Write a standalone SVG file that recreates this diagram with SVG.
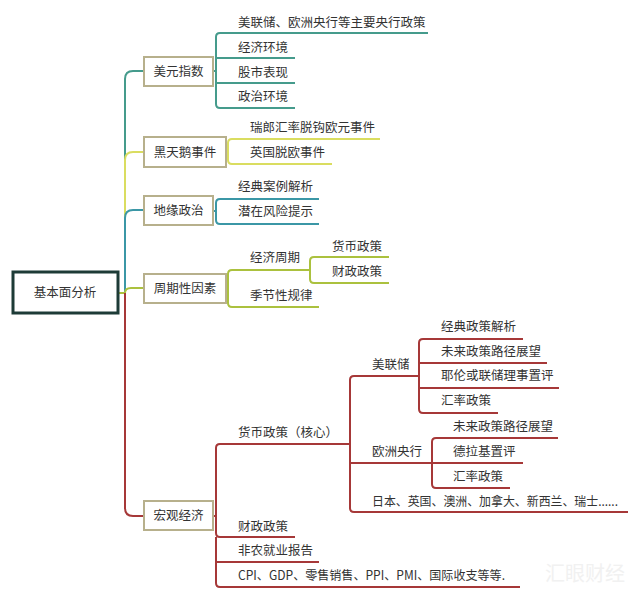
<svg xmlns="http://www.w3.org/2000/svg" width="640" height="599" viewBox="0 0 640 599">
<style>
text{font-family:"Noto Sans CJK SC","Microsoft YaHei",sans-serif;font-size:12.5px;fill:#333}
.c{fill:none;stroke-width:2;stroke-linejoin:round}
.t{stroke:#459b8c}
.y{stroke:#dadd60}
.b{stroke:#3b97a6}
.g{stroke:#abc13e}
.r{stroke:#a63838}
.box{fill:#fff;stroke:#b7b08c;stroke-width:2}
.mid{text-anchor:middle}
</style>
<rect width="640" height="599" fill="#fff"/>
<g id="connectors">
  <!-- trunk -->
  <path class="c t" d="M119,293 H125 V79 Q125,71 133,71 H144"/>
  <path class="c y" d="M125,293 V160 Q125,152 133,152 H144"/>
  <path class="c b" d="M125,293 V218 Q125,210 133,210 H144"/>
  <path class="c g" d="M119,293 H125 Q125,288 131,288 H144"/>
  <path class="c r" d="M125,293 V508 Q125,516 133,516 H144"/>
  <!-- 美元指数 -->
  <path class="c t" d="M213,71 H216 V37 Q216,33 220,33 H428"/>
  <path class="c t" d="M216,71 V58 H295"/>
  <path class="c t" d="M216,71 V83 H295"/>
  <path class="c t" d="M213,71 H216 V104 Q216,108 220,108 H295"/>
  <!-- 黑天鹅 -->
  <path class="c y" d="M226,152 H228 V143 Q228,139 232,139 H380"/>
  <path class="c y" d="M226,152 H228 V160 Q228,164 232,164 H332"/>
  <!-- 地缘政治 -->
  <path class="c b" d="M213,211 H216 V203 Q216,199 220,199 H319"/>
  <path class="c b" d="M213,211 H216 V220 Q216,224 220,224 H319"/>
  <!-- 周期性因素 -->
  <path class="c g" d="M226,289 H228 V274 Q228,270 232,270 H310"/>
  <path class="c g" d="M226,289 H228 V303 Q228,307 232,307 H319"/>
  <path class="c g" d="M310,270 V261 Q310,257 314,257 H389"/>
  <path class="c g" d="M310,270 V279 Q310,283 314,283 H389"/>
  <!-- 宏观经济 -->
  <path class="c r" d="M213,516 H216 V448 Q216,444 220,444 H350"/>
  <path class="c r" d="M213,516 H216 V533 Q216,537 220,537 H295"/>
  <path class="c r" d="M216,537 V562 H319"/>
  <path class="c r" d="M216,562 V583 Q216,587 220,587 H520"/>
  <path class="c r" d="M350,444 V380 Q350,376 354,376 H419"/>
  <path class="c r" d="M350,444 V463 H432"/>
  <path class="c r" d="M350,463 V508 Q350,512 354,512 H628"/>
  <path class="c r" d="M419,376 V343 Q419,339 423,339 H523"/>
  <path class="c r" d="M419,376 V363 H547"/>
  <path class="c r" d="M419,376 V388 H559"/>
  <path class="c r" d="M419,388 V409 Q419,413 423,413 H498"/>
  <path class="c r" d="M432,463 V442 Q432,438 436,438 H558"/>
  <path class="c r" d="M432,463 H523"/>
  <path class="c r" d="M432,463 V484 Q432,488 436,488 H510"/>
</g>
<g id="root">
  <rect x="13" y="272" width="105" height="41" fill="#fff" stroke="#1d3b37" stroke-width="3"/>
  <text class="mid" x="65" y="297">基本面分析</text>
</g>
<g id="n-meiyuan">
  <rect class="box" x="144" y="57" width="69" height="29"/>
  <text class="mid" x="178.5" y="76">美元指数</text>
</g>
<g id="n-heitiane">
  <rect class="box" x="144" y="137" width="82" height="30"/>
  <text class="mid" x="185" y="157">黑天鹅事件</text>
</g>
<g id="n-diyuan">
  <rect class="box" x="144" y="196" width="69" height="29"/>
  <text class="mid" x="178.5" y="215">地缘政治</text>
</g>
<g id="n-zhouqi">
  <rect class="box" x="144" y="274" width="82" height="29"/>
  <text class="mid" x="185" y="293">周期性因素</text>
</g>
<g id="n-hongguan">
  <rect class="box" x="144" y="501" width="69" height="29"/>
  <text class="mid" x="178.5" y="520">宏观经济</text>
</g>
<g id="leaves-meiyuan">
  <text x="238" y="27">美联储、欧洲央行等主要央行政策</text>
  <text x="238" y="52">经济环境</text>
  <text x="238" y="77">股市表现</text>
  <text x="238" y="101">政治环境</text>
</g>
<g id="leaves-heitiane">
  <text x="250" y="132">瑞郎汇率脱钩欧元事件</text>
  <text x="250" y="157">英国脱欧事件</text>
</g>
<g id="leaves-diyuan">
  <text x="238" y="191">经典案例解析</text>
  <text x="238" y="216">潜在风险提示</text>
</g>
<g id="leaves-zhouqi">
  <text x="250" y="262">经济周期</text>
  <text x="332" y="251">货币政策</text>
  <text x="332" y="276">财政政策</text>
  <text x="250" y="300">季节性规律</text>
</g>
<g id="leaves-hongguan">
  <text x="238" y="437">货币政策（核心）</text>
  <text x="372" y="369">美联储</text>
  <text x="441" y="331">经典政策解析</text>
  <text x="441" y="356">未来政策路径展望</text>
  <text x="441" y="380">耶伦或联储理事置评</text>
  <text x="441" y="405">汇率政策</text>
  <text x="372" y="456">欧洲央行</text>
  <text x="453" y="431">未来政策路径展望</text>
  <text x="453" y="456">德拉基置评</text>
  <text x="453" y="481">汇率政策</text>
  <text x="372" y="506" textLength="246" lengthAdjust="spacingAndGlyphs">日本、英国、澳洲、加拿大、新西兰、瑞士......</text>
  <text x="238" y="531">财政政策</text>
  <text x="238" y="555">非农就业报告</text>
  <text x="238" y="580" textLength="267" lengthAdjust="spacingAndGlyphs">CPI、GDP、零售销售、PPI、PMI、国际收支等等.</text>
</g>
<text x="545" y="581" style="font-size:20px;fill:#f1f1f1">汇眼财经</text>
</svg>
